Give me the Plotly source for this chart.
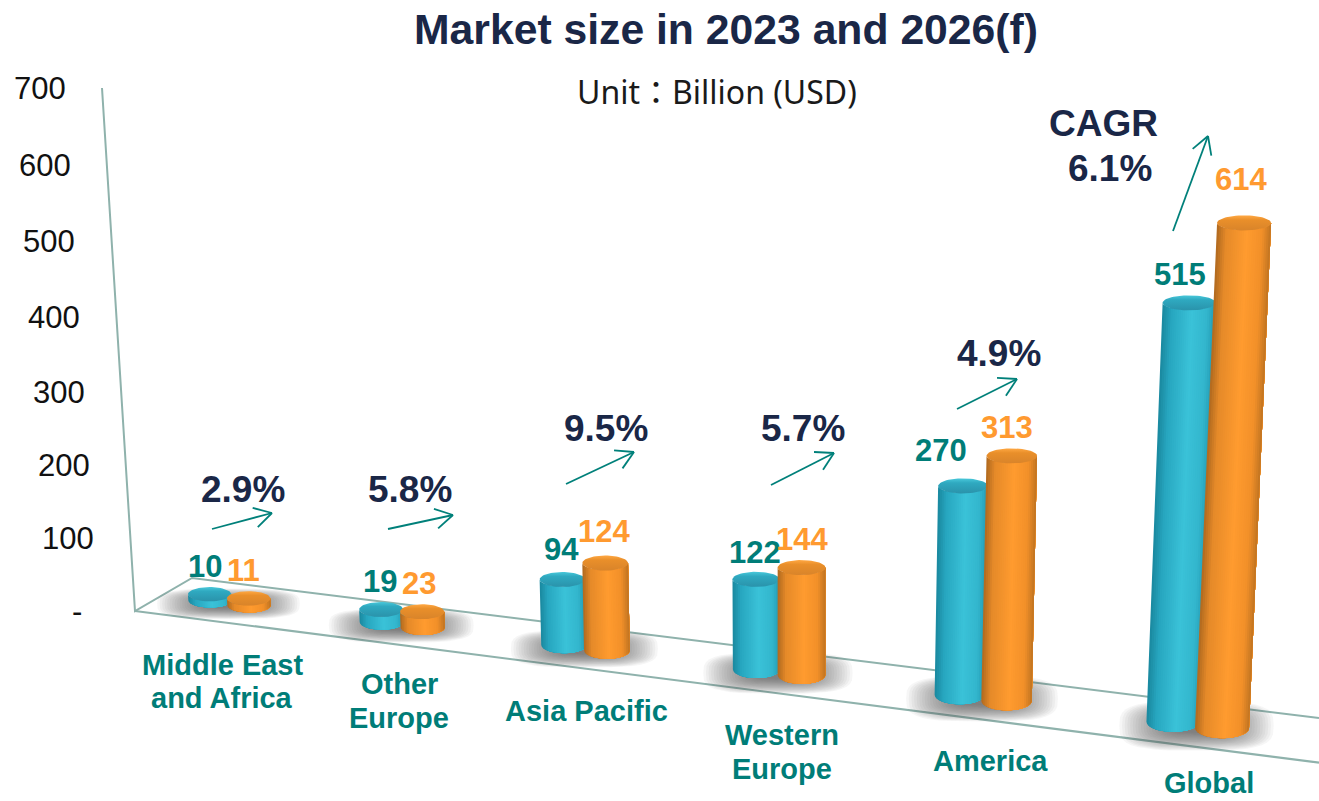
import math
import plotly.graph_objects as go

# ---- data ----
categories = ["Middle East\nand Africa", "Other\nEurope", "Asia Pacific", "Western\nEurope", "America", "Global"]
values_2023 = [10, 19, 94, 122, 270, 515]
values_2026 = [11, 23, 124, 144, 313, 614]
cagr_labels = ["2.9%", "5.8%", "9.5%", "5.7%", "4.9%", "6.1%"]
tick_values = [0, 100, 200, 300, 400, 500, 600, 700]
tick_labels = ["-", "100", "200", "300", "400", "500", "600", "700"]

# ---- styles ----
TEAL_TXT, ORANGE_TXT, NAVY = "#007d78", "#ff9a30", "#1a2747"
LINE = "#8fb2ac"
SANS = "Liberation Sans"
TEAL_SIDE = [(0, (27, 139, 162)), (.16, (39, 166, 191)), (.55, (58, 194, 216)), (.85, (51, 182, 205)), (1, (36, 156, 181))]
TEAL_CAP = [[0, "#2a93ab"], [.7, "#2fa9c0"], [1, "#49c8da"]]
ORANGE_SIDE = [(0, (181, 108, 32)), (.16, (229, 138, 41)), (.55, (255, 155, 47)), (.85, (242, 144, 41)), (1, (198, 119, 34))]
ORANGE_CAP = [[0, "#d9842a"], [.7, "#e98f2a"], [1, "#ffa843"]]

# ---- projection of the tilted 3-D scene onto the plot ----
W, H = 1319, 801
ORIGIN_X, ORIGIN_Y, UNIT = 135, 611, 0.746


def U(px_y):
    """Screen row -> value-axis units."""
    return (ORIGIN_Y - px_y) / UNIT


def back_y(x):
    return 578 + (x - 192) * 0.1242


def front_y(x):
    return ORIGIN_Y + (x - ORIGIN_X) * 0.128


def wall_row(v):
    return ORIGIN_Y - v * (0.717 + 4.3e-5 * v)


def wall_x(v):
    return ORIGIN_X - 33 * v / 700


def slot_x(i):
    return 229.5 + 167.5 * i + 5.22 * i * i


def mix(scale, t):
    for (t0, c0), (t1, c1) in zip(scale, scale[1:]):
        if t <= t1:
            f = (t - t0) / (t1 - t0)
            return "rgb(%d,%d,%d)" % tuple(round(p + (q - p) * f) for p, q in zip(c0, c1))
    return "rgb(%d,%d,%d)" % scale[-1][1]


fig = go.Figure()


def poly(xs, ys, **kw):
    fig.add_trace(go.Scatter(x=xs, y=[U(y) for y in ys], mode="lines", line=dict(width=0),
                             fill="toself", hoverinfo="skip", showlegend=False, **kw))


def stroke(xs, ys, color, width):
    fig.add_trace(go.Scatter(x=xs, y=[None if y is None else U(y) for y in ys], mode="lines",
                             line=dict(color=color, width=width), hoverinfo="skip", showlegend=False))


# floor and wall lines
stroke([wall_x(700), ORIGIN_X, 192, W], [wall_row(700), ORIGIN_Y, 578, back_y(W)], LINE, 2)
stroke([ORIGIN_X, W], [ORIGIN_Y, front_y(W)], LINE, 2.2)

# soft floor shadows
for i in range(len(categories)):
    cx = slot_x(i) - 1
    cy = (back_y(cx) + front_y(cx)) / 2 + 1
    hw, hh = 70 + 0.006 * cx, 13 + 0.01 * cx
    for k in range(22):
        s = 1 - k * 0.035
        xs, ys = [], []
        for a in range(0, 361, 10):
            c, d = math.cos(math.radians(a)), math.sin(math.radians(a))
            xs.append(cx + s * hw * math.copysign(abs(c) ** 0.6, c))
            ys.append(cy + s * hh * math.copysign(abs(d) ** 0.6, d))
        poly(xs, ys, fillcolor="rgba(85,85,85,0.05)")


def cylinder(x0, value, side, cap):
    rx = 21.5 + 5.5 * (x0 / 1222) ** 2
    ry = 6.5 + 0.003 * x0
    cap_ry = min(ry, 7.5)
    base = (back_y(x0) + front_y(x0)) / 2
    h = value * (0.58 + 0.000195 * x0) + (ry - cap_ry)
    lean = (x0 - 798) * 0.000103 * h
    top_x, top = x0 + lean, base - h
    # side wall: strips painted left to right, each running on to the right edge
    strips = 26
    for k in range(strips):
        ang_from = math.pi - math.acos(1 - 2 * k / strips)
        path = [ang_from * (1 - n / 14) for n in range(15)]
        xs = [x0 + rx * math.cos(a) for a in path] + [top_x + rx * math.cos(a) for a in reversed(path)]
        ys = [base + ry * math.sin(a) for a in path] + [top + cap_ry * math.sin(a) for a in reversed(path)]
        poly(xs + xs[:1], ys + ys[:1], fillcolor=mix(side, k / (strips - 1)))
    angles = [math.radians(a) for a in range(0, 361, 6)]
    poly([top_x + rx * math.cos(a) for a in angles], [top + cap_ry * math.sin(a) for a in angles],
         fillgradient=dict(type="vertical", colorscale=cap))


for i, (a, b) in enumerate(zip(values_2023, values_2026)):
    sep = 19.5 + i
    cylinder(slot_x(i) - sep, a, TEAL_SIDE, TEAL_CAP)
    cylinder(slot_x(i) + sep, b, ORANGE_SIDE, ORANGE_CAP)


def arrow(x1, y1, x2, y2):
    ang = math.atan2(y2 - y1, x2 - x1)
    xs, ys = [x1, x2, None], [y1, y2, None]
    for sign in (-1, 1):
        xs += [x2 - 20 * math.cos(ang + sign * 0.52), x2, None]
        ys += [y2 - 20 * math.sin(ang + sign * 0.52), y2, None]
    stroke(xs, ys, "#00807a", 1.8)


# growth arrows: start and tip on screen
arrow_spans = [(212, 529, 272, 513), (388, 529, 453, 515), (566, 484, 634, 452),
               (771, 485, 834, 453), (957, 409, 1017, 379), (1173, 231, 1208, 136)]
for span in arrow_spans:
    arrow(*span)


def text(s, x, y, size, color, bold=True, family=SANS):
    fig.add_annotation(x=x, y=U(y), text=f"<b>{s}</b>" if bold else s, showarrow=False,
                       xanchor="center", yanchor="middle",
                       font=dict(family=family, size=size, color=color))


text("Market size in 2023 and 2026(f)", 726, 29, 42.7, NAVY)
text("Unit：Billion (USD)", 717, 91, 32, "#1a1a1a", bold=False, family="Noto Sans, Noto Sans CJK JP")

for v, lab in zip(tick_values, tick_labels):
    text(lab, wall_x(v) - (58 if lab == "-" else 62), wall_row(v), 31, "#111111", bold=False)

label_rows_2023 = [566, 581, 549, 552, 450, 274]
label_rows_2026 = [570, 583, 531, 539, 427, 179]
label_x_2023 = [205, 380, 561, 755, 941, 1180]
label_x_2026 = [243, 419, 604, 802, 1007, 1241]
for v, x, y in zip(values_2023, label_x_2023, label_rows_2023):
    text(str(v), x, y, 31, TEAL_TXT)
for v, x, y in zip(values_2026, label_x_2026, label_rows_2026):
    text(str(v), x, y, 31, ORANGE_TXT)

cagr_pos = [(243, 489), (410, 489), (606, 428), (803, 428), (999, 353), (1110, 168)]
for lab, (x, y) in zip(cagr_labels, cagr_pos):
    text(lab, x, y, 37, NAVY)
text("CAGR", 1103, 123, 37, NAVY)

category_pos = [(222, 681.5), (399, 701), (586, 711), (782, 752), (990, 761), (1209, 783)]
for cat, (x, y) in zip(categories, category_pos):
    lines = cat.split("\n")
    for j, ln in enumerate(lines):
        text(ln, x, y + (j - (len(lines) - 1) / 2) * 33.5, 29, TEAL_TXT)

fig.update_layout(
    width=W, height=H, autosize=False,
    margin=dict(l=0, r=0, t=0, b=0),
    paper_bgcolor="white", plot_bgcolor="white",
    showlegend=False,
    xaxis=dict(range=[0, W], visible=False, fixedrange=True),
    yaxis=dict(range=[U(H), U(0)], visible=False, fixedrange=True),
)
fig.write_html("out.html", config=dict(displayModeBar=False),
               default_width=f"{W}px", default_height=f"{H}px",
               post_script="document.body.style.margin='0';document.body.style.overflow='hidden';")
